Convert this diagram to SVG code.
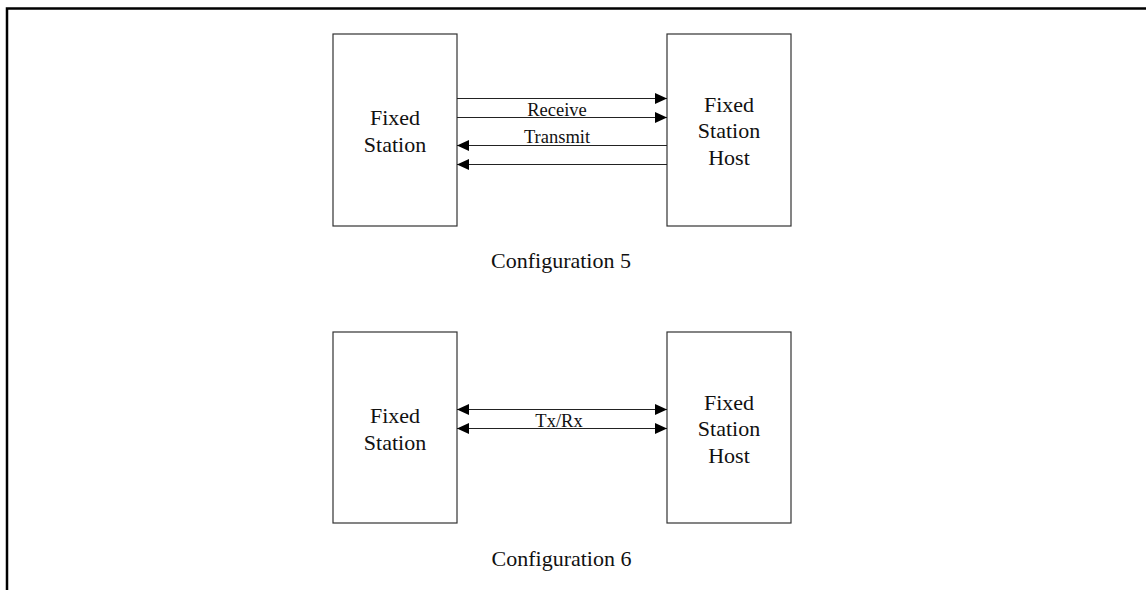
<svg xmlns="http://www.w3.org/2000/svg" width="1146" height="590" viewBox="0 0 1146 590">
<style>
.box{fill:#fff;stroke:#333;stroke-width:1.2}
.ln{stroke:#222;stroke-width:1.2;fill:none}
.t{font-family:"Liberation Serif","Times New Roman",serif;font-size:22px;fill:#111;text-anchor:middle}
.s{font-family:"Liberation Serif","Times New Roman",serif;font-size:18.5px;fill:#111;text-anchor:middle}
.frame{stroke:#000;stroke-width:2.5;fill:none}
</style>
<defs>
<marker id="ah" markerUnits="userSpaceOnUse" markerWidth="12" markerHeight="12" refX="12" refY="6" orient="auto-start-reverse" viewBox="0 0 12 12">
<path d="M0,0.5 L12,6 L0,11.5 Z" fill="#000"/>
</marker>
</defs>
<path class="frame" d="M7,590 V8.5 H1146"/>
<g id="c5-fixed-station">
<rect class="box" x="333" y="34" width="124" height="192"/>
<text class="t" x="395" y="125">Fixed</text>
<text class="t" x="395" y="151.5">Station</text>
</g>
<g id="c5-host">
<rect class="box" x="667" y="34" width="124" height="192"/>
<text class="t" x="729" y="111.5">Fixed</text>
<text class="t" x="729" y="138">Station</text>
<text class="t" x="729" y="164.5">Host</text>
</g>
<g id="c6-fixed-station">
<rect class="box" x="333" y="332" width="124" height="191"/>
<text class="t" x="395" y="423">Fixed</text>
<text class="t" x="395" y="449.5">Station</text>
</g>
<g id="c6-host">
<rect class="box" x="667" y="332" width="124" height="191"/>
<text class="t" x="729" y="409.5">Fixed</text>
<text class="t" x="729" y="436">Station</text>
<text class="t" x="729" y="462.5">Host</text>
</g>
<g id="connectors">
<line class="ln" x1="457" y1="98.5" x2="667" y2="98.5" marker-end="url(#ah)"/>
<line class="ln" x1="457" y1="117.5" x2="667" y2="117.5" marker-end="url(#ah)"/>
<line class="ln" x1="667" y1="145.5" x2="457" y2="145.5" marker-end="url(#ah)"/>
<line class="ln" x1="667" y1="164.5" x2="457" y2="164.5" marker-end="url(#ah)"/>
<line class="ln" x1="457" y1="409.5" x2="667" y2="409.5" marker-start="url(#ah)" marker-end="url(#ah)"/>
<line class="ln" x1="457" y1="428.5" x2="667" y2="428.5" marker-start="url(#ah)" marker-end="url(#ah)"/>
</g>
<g id="labels">
<text class="s" x="557" y="115.5">Receive</text>
<text class="s" x="557" y="143">Transmit</text>
<text class="s" x="559" y="426.5">Tx/Rx</text>
<text class="t" x="561" y="268">Configuration 5</text>
<text class="t" x="561.5" y="566">Configuration 6</text>
</g>
</svg>
